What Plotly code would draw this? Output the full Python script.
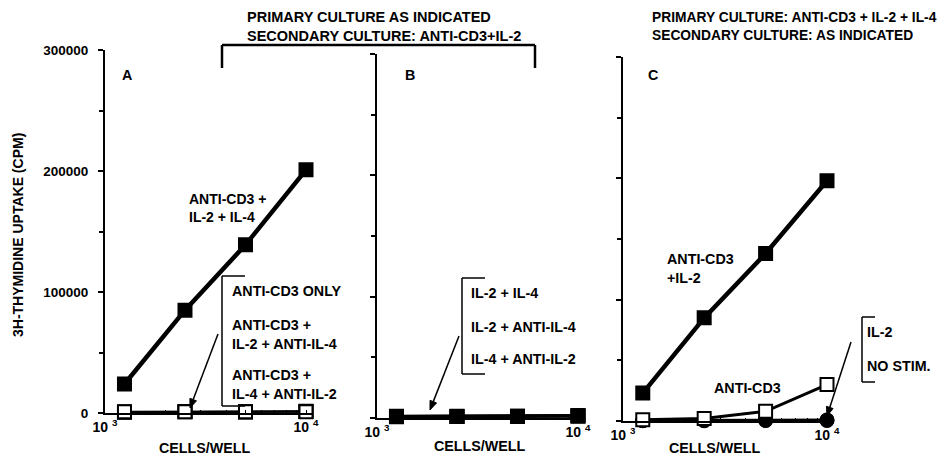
import math
import plotly.graph_objects as go

W, H = 937, 460

# ---------------- data ----------------
cells = [1250, 2500, 5000, 10000]

a_cd3_il2_il4 = [24000, 85000, 139000, 201000]
a_cd3_only = [1000, 1000, 1000, 1000]
a_cd3_il2_antiil4 = [800, 1200, 1000, 1500]
a_cd3_il4_antiil2 = [600, 1000, 800, 1200]

b_il2_il4 = [1500, 1500, 1500, 2000]
b_il2_antiil4 = [1200, 1300, 1500, 1800]
b_il4_antiil2 = [1000, 1200, 1300, 1500]

c_cd3_il2 = [23000, 85000, 138000, 198000]
c_cd3 = [1000, 2000, 8000, 30000]
c_il2 = [500, 500, 600, 800]
c_nostim = [300, 300, 400, 500]

y_tickvals = [0, 100000, 200000, 300000]
y_ticktext = ["<b>0</b>", "<b>100000</b>", "<b>200000</b>", "<b>300000</b>"]
y_minor = [50000, 150000, 250000]
x_tickvals = [1000, 10000]
x_ticktext = ["<b>10 <sup>3</sup></b>", "<b>10 <sup>4</sup></b>"]
x_minor = [2000, 3000, 4000, 5000, 6000, 7000, 8000, 9000]

FONT = "Liberation Sans, Arial, Helvetica, sans-serif"
LAB = 14.3


def px(x):
    return x / W


def py(y):
    return 1 - y / H


fig = go.Figure()


def add_line(xa, ya, yvals, marker_symbol, lw, ms, fill="black"):
    fig.add_trace(go.Scatter(
        x=cells, y=yvals, xaxis=xa, yaxis=ya, mode="lines+markers",
        line=dict(color="black", width=lw),
        marker=dict(symbol=marker_symbol, size=ms, color=fill,
                    line=dict(color="black", width=2)),
        cliponaxis=False, showlegend=False, hoverinfo="skip"))


# Panel A
add_line("x", "y", a_cd3_il4_antiil2, "square", 2, 13, "white")
add_line("x", "y", a_cd3_il2_antiil4, "square", 2, 13, "white")
add_line("x", "y", a_cd3_only, "square", 2, 13, "white")
add_line("x", "y", a_cd3_il2_il4, "square", 4.5, 13)
# Panel B
add_line("x2", "y2", b_il4_antiil2, "square", 3, 13)
add_line("x2", "y2", b_il2_antiil4, "square", 3, 13)
add_line("x2", "y2", b_il2_il4, "square", 3, 13)
# Panel C
add_line("x3", "y3", c_nostim, "circle", 3, 13)
add_line("x3", "y3", c_il2, "circle", 3, 13)
add_line("x3", "y3", c_cd3, "square", 3, 13, "white")
add_line("x3", "y3", c_cd3_il2, "square", 4.5, 13)

panels = [
    # x at 10^3, x at 10^4, x end, y of zero, y of 300000, show labels
    (105, 306, 312, 413, 50, True),
    (377, 578, 583, 418, 54, False),
    (623, 827, 832, 421, 57, False),
]

for i, (x0, x4, xe, yz, yt, lab) in enumerate(panels):
    sfx = "" if i == 0 else str(i + 1)
    rng_hi = 3 + (xe - x0) / (x4 - x0)
    xa = dict(
        type="log", range=[3, rng_hi], domain=[px(x0), px(xe)],
        anchor="y" + sfx, automargin=False,
        showline=True, linecolor="black", linewidth=2,
        showgrid=False, zeroline=False,
        tickvals=x_tickvals, ticktext=x_ticktext, ticks="inside", ticklen=3,
        tickwidth=1, tickcolor="black",
        minor=dict(tickvals=x_minor, ticks="inside", ticklen=3,
                   tickcolor="black", tickwidth=1, showgrid=False),
        tickfont=dict(family=FONT, size=14, color="black"),
    )
    ya = dict(
        range=[0, 300000], domain=[py(yz), py(yt)], anchor="x" + sfx,
        automargin=False,
        showline=True, linecolor="black", linewidth=2, showgrid=False,
        zeroline=False, tickvals=y_tickvals, ticktext=y_ticktext,
        showticklabels=lab,
        ticks="outside", ticklen=5, tickwidth=1.5, tickcolor="black",
        minor=dict(tickvals=y_minor, ticks="outside", ticklen=4,
                   tickcolor="black", tickwidth=1.5, showgrid=False),
        ticklabelstandoff=7,
        tickfont=dict(family=FONT, size=13.5, color="black"),
    )
    fig.update_layout(**{"xaxis" + sfx: xa, "yaxis" + sfx: ya})

anns = []
shapes = []


def text(x, y, s, size=LAB, xanchor="left", align="left", angle=0):
    anns.append(dict(x=px(x), y=py(y), xref="paper", yref="paper",
                     text="<b>" + s.replace("<br>", "</b><br><b>") + "</b>",
                     showarrow=False, xanchor=xanchor, yanchor="middle",
                     align=align, textangle=angle, borderpad=0,
                     font=dict(family=FONT, size=size, color="black")))


def seg(x0, y0, x1, y1, w=1.5):
    shapes.append(dict(type="line", xref="paper", yref="paper",
                       x0=px(x0), y0=py(y0), x1=px(x1), y1=py(y1),
                       line=dict(color="black", width=w)))


def arrow(x_tail, y_tail, x_head, y_head, L=9, hw=3.5):
    dx, dy = x_head - x_tail, y_head - y_tail
    n = math.hypot(dx, dy)
    ux, uy = dx / n, dy / n
    bx, by = x_head - ux * L, y_head - uy * L
    seg(x_tail, y_tail, bx, by, 1.5)
    p1 = (bx - uy * hw, by + ux * hw)
    p2 = (bx + uy * hw, by - ux * hw)
    path = "M {} {} L {} {} L {} {} Z".format(
        px(x_head), py(y_head), px(p1[0]), py(p1[1]), px(p2[0]), py(p2[1]))
    shapes.append(dict(type="path", xref="paper", yref="paper", path=path,
                       fillcolor="black", line=dict(color="black", width=1)))


# headers
text(246, 26, "PRIMARY CULTURE AS INDICATED<br>SECONDARY CULTURE: ANTI-CD3+IL-2", size=14.5)
text(651, 26, "PRIMARY CULTURE: ANTI-CD3 + IL-2 + IL-4<br>SECONDARY CULTURE: AS INDICATED", size=13.8)

# panel letters
text(121, 75, "A")
text(404, 75, "B")
text(647, 75, "C")

# y-axis title
text(18, 235, "3H-THYMIDINE UPTAKE (CPM)", size=14, xanchor="center", align="center", angle=-90)

# x-axis titles
text(205, 448, "CELLS/WELL", xanchor="center")
text(480, 446, "CELLS/WELL", xanchor="center")
text(715, 448, "CELLS/WELL", xanchor="center")

# panel A labels
text(188, 208, "ANTI-CD3 +<br>IL-2 + IL-4", size=14)
text(231, 291, "ANTI-CD3 ONLY")
text(231, 334, "ANTI-CD3 +<br>IL-2 + ANTI-IL-4")
text(231, 384, "ANTI-CD3 +<br>IL-4 + ANTI-IL-2")
arrow(218, 334, 190, 408)

# panel B labels
text(470, 293, "IL-2 + IL-4")
text(470, 327, "IL-2 + ANTI-IL-4")
text(470, 359, "IL-4 + ANTI-IL-2")
arrow(459, 336, 430, 410)

# panel C labels
text(666, 268, "ANTI-CD3<br>+IL-2")
text(713, 388, "ANTI-CD3")
text(866, 332, "IL-2")
text(866, 366, "NO STIM.")
arrow(851, 342, 827, 416)

# top bracket
seg(222, 45, 535, 45, 2.5)
seg(222, 45, 222, 68, 2.5)
seg(535, 45, 535, 68, 2.5)
# bracket A
seg(222, 276, 222, 406, 1.5)
seg(222, 276, 245, 276, 1.5)
seg(222, 406, 245, 406, 1.5)
# bracket B
seg(462, 278, 462, 374, 1.5)
seg(462, 278, 485, 278, 1.5)
seg(462, 374, 485, 374, 1.5)
# bracket C
seg(862, 317, 862, 382, 1.5)
seg(862, 317, 875, 317, 1.5)
seg(862, 382, 875, 382, 1.5)

fig.update_layout(
    width=W, height=H, margin=dict(l=0, r=0, t=0, b=0, pad=0, autoexpand=False),
    paper_bgcolor="white", plot_bgcolor="white",
    font=dict(family=FONT, size=13, color="black"),
    annotations=anns, shapes=shapes, showlegend=False,
)

fig.write_html(
    "out.html",
    config={"displayModeBar": False},
    post_script="document.body.style.margin='0px';document.body.style.overflow='hidden';",
)
